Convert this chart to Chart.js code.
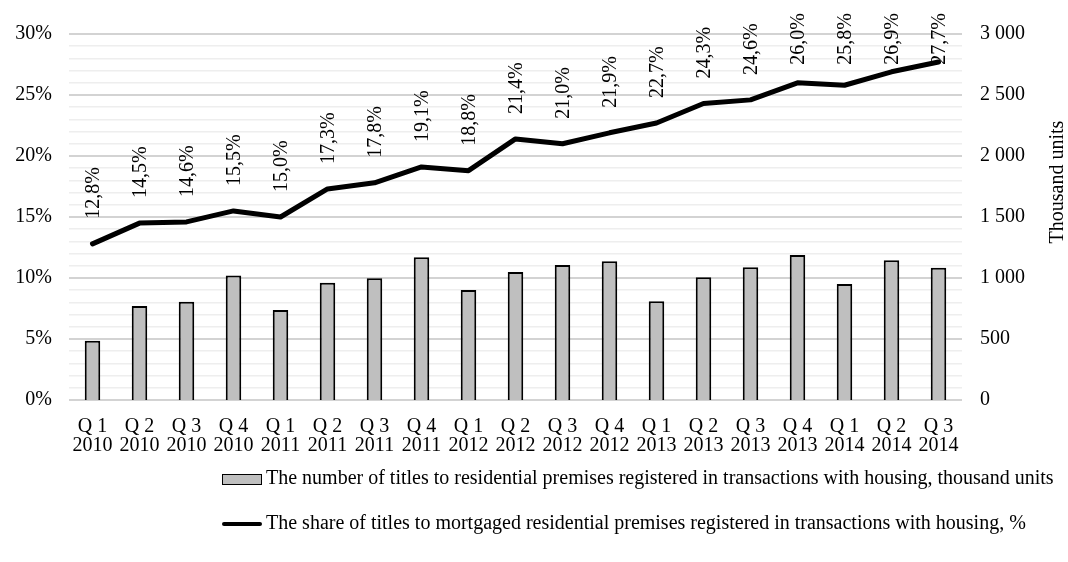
<!DOCTYPE html>
<html>
<head>
<meta charset="utf-8">
<script src="https://cdn.jsdelivr.net/npm/chart.js@4.4.1/dist/chart.umd.min.js"></script>
<style>
  body { margin: 0; background: #fff; }
  #wrap { position: relative; width: 1068px; height: 562px; font-family: "Liberation Serif", "Times New Roman", serif; }
  #myChart { position: absolute; left: 0; top: 0; }
  .leg { position: absolute; left: 222px; font-size: 20px; color: #000; white-space: nowrap; line-height: 20px; }
  .leg .sw { display: inline-block; vertical-align: middle; margin-right: 4px; }
  .bar-sw { width: 38px; height: 9px; background: #bfbfbf; border: 1px solid #000; }
  .line-sw { width: 40px; height: 4px; background: #000; border-radius: 2px; }
</style>
</head>
<body>
<div id="wrap">
  <canvas id="myChart" width="1068" height="562"></canvas>
  <div class="leg" style="top:467px"><span class="sw bar-sw"></span>The number of titles to residential premises registered in transactions with housing, thousand units</div>
  <div class="leg" style="top:512px"><span class="sw line-sw"></span>The share of titles to mortgaged residential premises registered in transactions with housing, %</div>
</div>
<script>
// quarters and years for the x axis
const quarters = ["Q 1", "Q 2", "Q 3", "Q 4", "Q 1", "Q 2", "Q 3", "Q 4", "Q 1", "Q 2", "Q 3", "Q 4", "Q 1", "Q 2", "Q 3", "Q 4", "Q 1", "Q 2", "Q 3"];
const years = ["2010", "2010", "2010", "2010", "2011", "2011", "2011", "2011", "2012", "2012", "2012", "2012", "2013", "2013", "2013", "2013", "2014", "2014", "2014"];

// number of titles, thousand units (right axis)
const titlesCount = [485, 770, 805, 1020, 738, 962, 997, 1170, 902, 1049, 1107, 1137, 809, 1006, 1088, 1189, 951, 1145, 1085];

// share of mortgaged titles, % (left axis)
const mortgageShare = [12.8, 14.5, 14.6, 15.5, 15.0, 17.3, 17.8, 19.1, 18.8, 21.4, 21.0, 21.9, 22.7, 24.3, 24.6, 26.0, 25.8, 26.9, 27.7];

const FONT = "'Liberation Serif', 'Times New Roman', serif";

document.addEventListener("DOMContentLoaded", () => {
  const labels = quarters.map((q, i) => [q, years[i]]);

  // draws the rotated % labels above the line and the right axis title
  const labelPlugin = {
    id: "shareLabels",
    afterDatasetsDraw(chart) {
      const ctx = chart.ctx;
      const meta = chart.getDatasetMeta(1);
      ctx.save();
      ctx.font = "20px " + FONT;
      ctx.fillStyle = "#000";
      ctx.textAlign = "left";
      ctx.textBaseline = "middle";
      meta.data.forEach((pt, i) => {
        const txt = mortgageShare[i].toFixed(1).replace(".", ",") + "%";
        const w = ctx.measureText(txt).width;
        let top = pt.y - 25 - w;
        if (top < 13) top = 13;
        ctx.save();
        ctx.translate(pt.x + 1, top + w);
        ctx.rotate(-Math.PI / 2);
        ctx.fillText(txt, 0, 0);
        ctx.restore();
      });
      // right axis title, reading bottom to top
      ctx.font = "20px " + FONT;
      ctx.textAlign = "center";
      ctx.translate(1058, 182);
      ctx.rotate(-Math.PI / 2);
      ctx.fillText("Thousand units", 0, 0);
      ctx.restore();
    },
  };

  const config = {
    data: {
      labels: labels,
      datasets: [
        {
          type: "bar",
          label: "The number of titles to residential premises registered in transactions with housing, thousand units",
          data: titlesCount,
          yAxisID: "y2",
          backgroundColor: "#bfbfbf",
          borderColor: "#000",
          borderWidth: 2,
          categoryPercentage: 1,
          barPercentage: 0.33,
          order: 2,
        },
        {
          type: "line",
          label: "The share of titles to mortgaged residential premises registered in transactions with housing, %",
          data: mortgageShare,
          yAxisID: "y",
          borderColor: "#000",
          borderWidth: 5,
          pointRadius: 0,
          tension: 0,
          borderCapStyle: "round",
          borderJoinStyle: "round",
          order: 1,
        },
      ],
    },
    options: {
      responsive: false,
      animation: false,
      layout: { padding: { left: 0, right: 0, top: 34, bottom: 107 } },
      plugins: {
        legend: { display: false },
        tooltip: { enabled: false },
      },
      scales: {
        x: {
          grid: { display: false },
          border: { display: false },
          ticks: {
            color: "#000",
            font: { family: FONT, size: 20, lineHeight: 0.92 },
            padding: 10,
            maxRotation: 0,
            autoSkip: false,
          },
          afterFit(scale) { scale.height = 55; },
        },
        y: {
          position: "left",
          min: 0,
          max: 30,
          border: { display: false },
          grid: {
            drawTicks: false,
            color: (c) => (c.tick && c.tick.value % 5 === 0 ? "#d3d3d3" : "#eeeeee"),
            lineWidth: (c) => (c.tick && c.tick.value % 5 === 0 ? 2 : 1.5),
          },
          ticks: {
            stepSize: 1,
            autoSkip: false,
            color: "#000",
            padding: 17,
            font: { family: FONT, size: 20 },
            callback: (v) => (v % 5 === 0 ? v + "%" : ""),
          },
          afterFit(scale) { scale.width = 69; },
        },
        y2: {
          position: "right",
          min: 0,
          max: 3000,
          border: { display: false },
          grid: { display: false, drawTicks: false },
          ticks: {
            stepSize: 500,
            color: "#000",
            padding: 18,
            font: { family: FONT, size: 20 },
            callback: (v) => String(v).replace(/\B(?=(\d{3})+(?!\d))/g, " "),
          },
          afterFit(scale) { scale.width = 106; },
        },
      },
    },
    plugins: [labelPlugin],
  };

  new Chart(document.getElementById("myChart"), config);
});
</script>
</body>
</html>
